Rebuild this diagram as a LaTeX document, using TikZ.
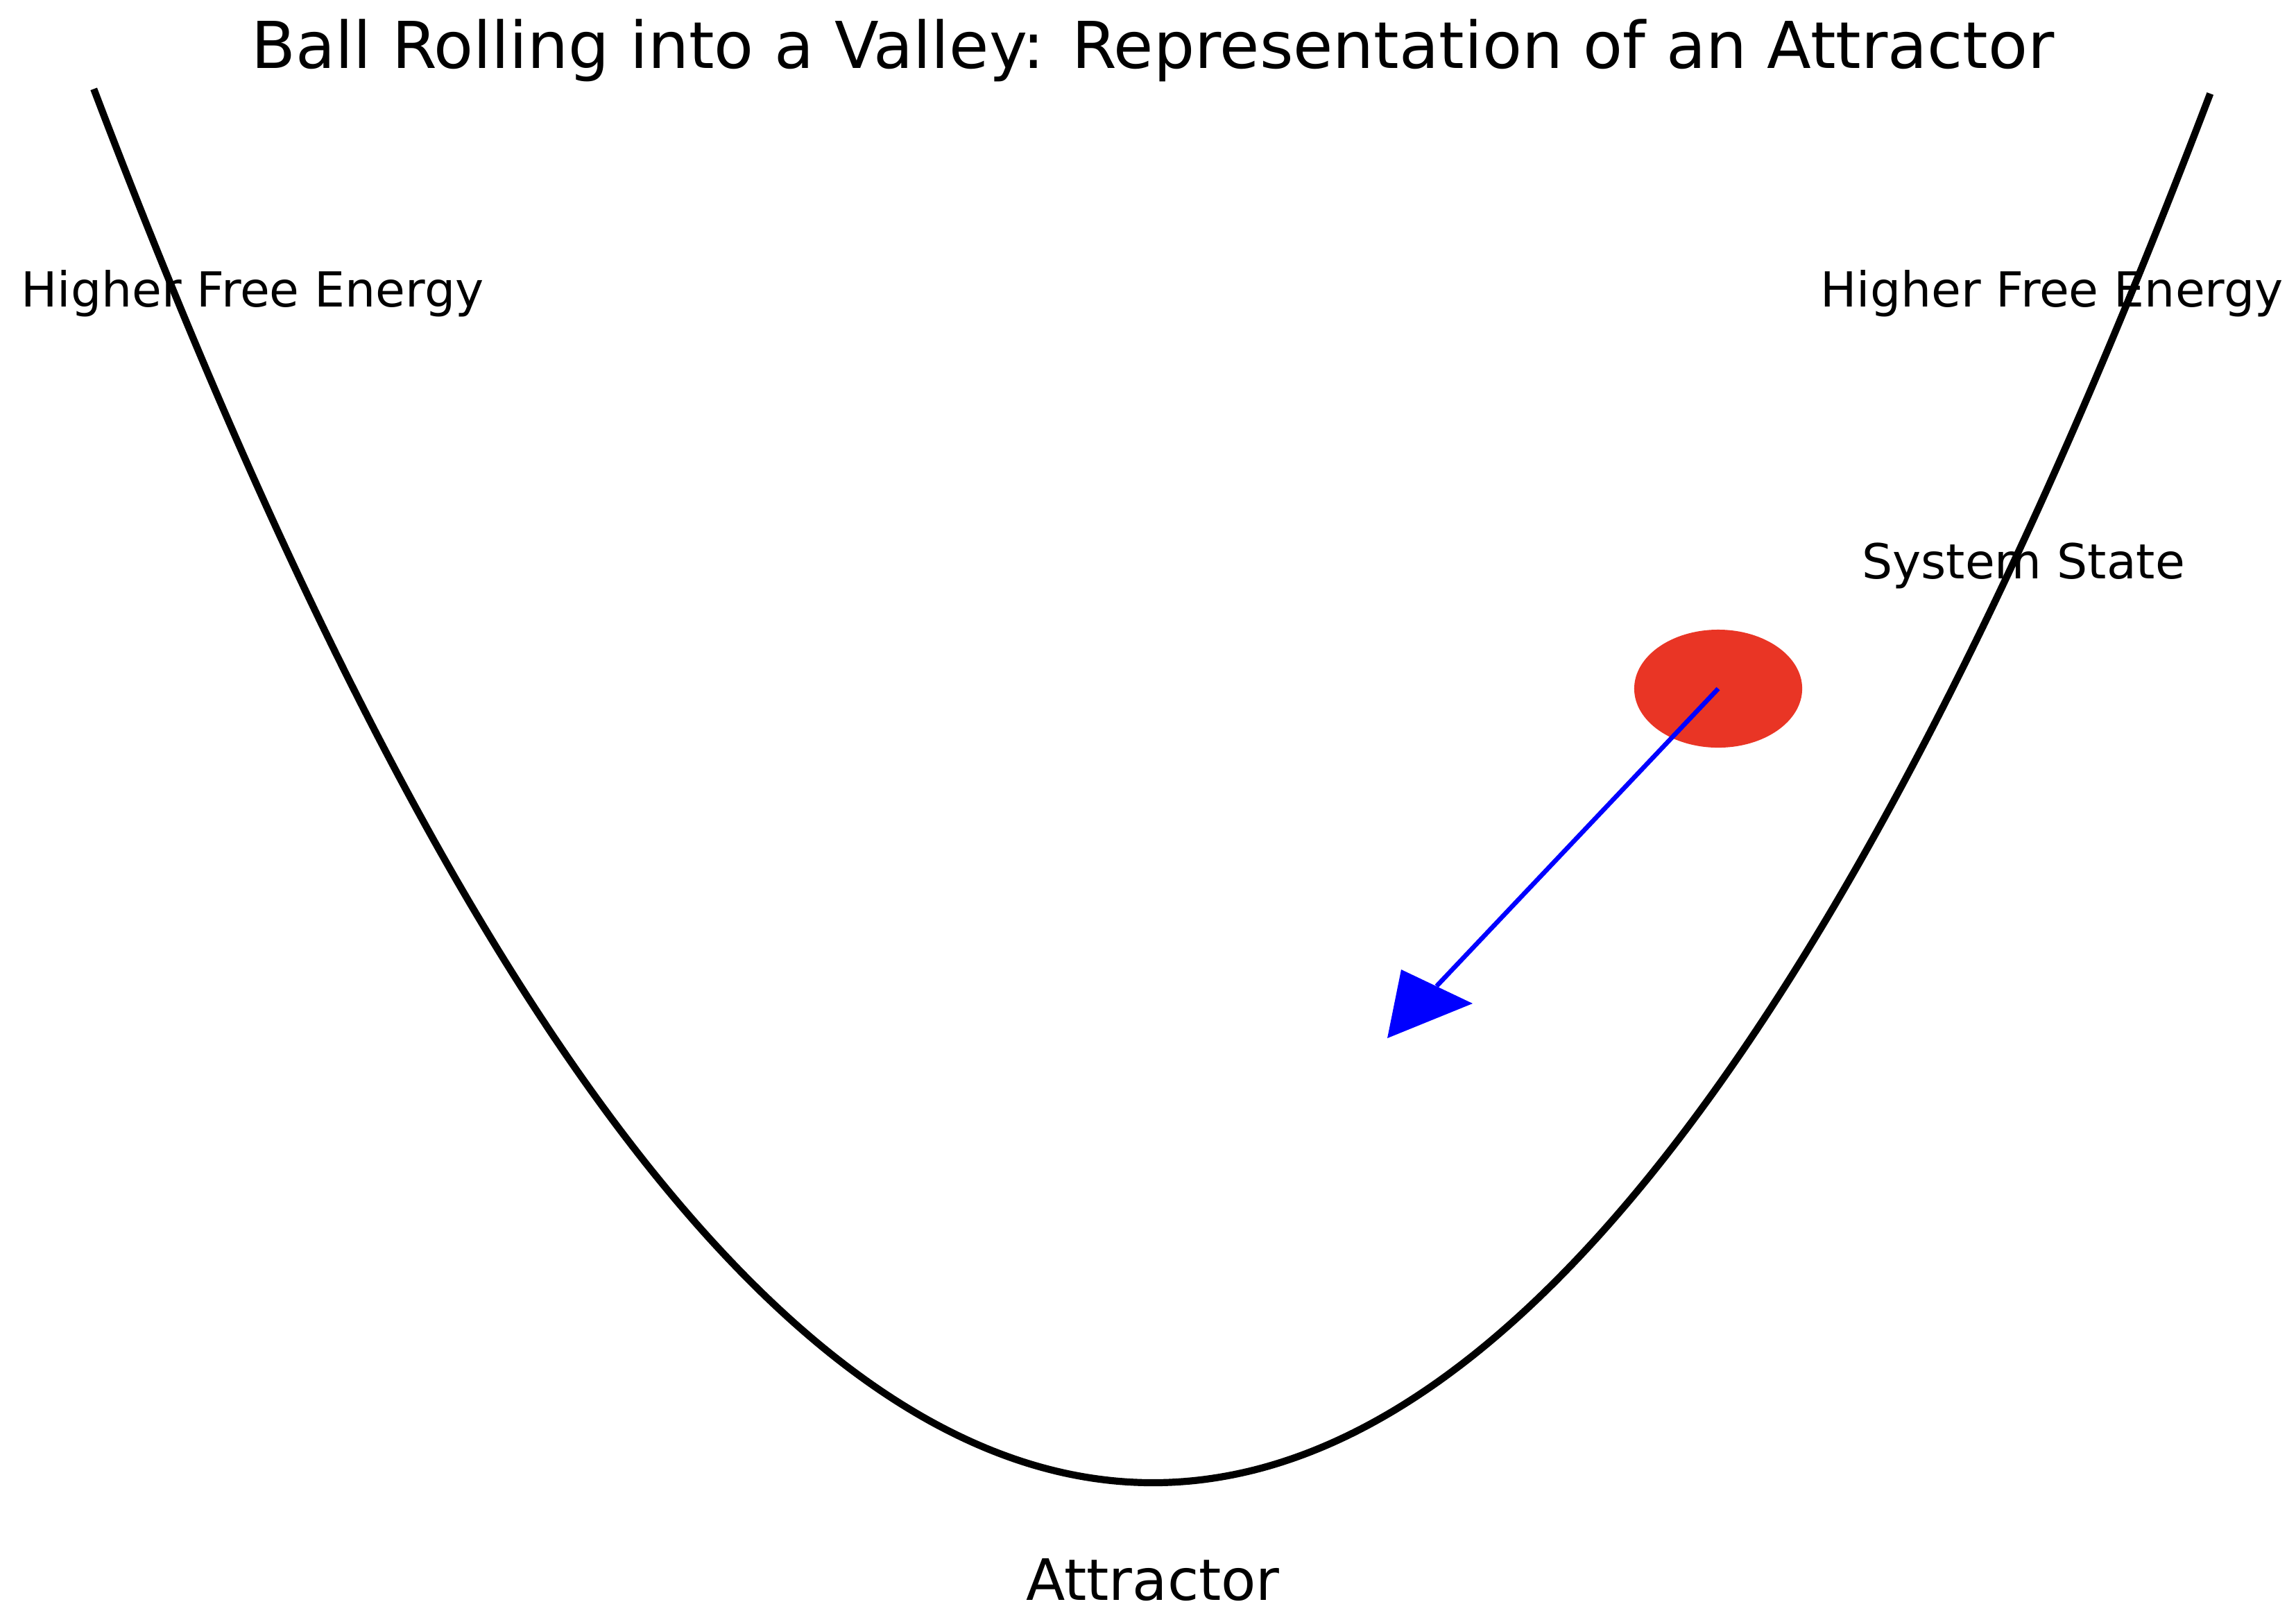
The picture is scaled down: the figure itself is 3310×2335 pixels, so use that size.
\documentclass[tikz,border=0pt]{standalone}
\usepackage{fontspec}
\setmainfont{DejaVu Sans}
\usetikzlibrary{shapes.geometric}
\definecolor{ballred}{RGB}{233,53,37}
\tikzset{
  lbl/.style={anchor=base, inner sep=0pt, font=\fontsize{19.8}{24}\selectfont, text=black},
  ttl/.style={anchor=base, inner sep=0pt, font=\fontsize{26.5}{32}\selectfont, text=black},
  attr/.style={anchor=base, inner sep=0pt, font=\fontsize{23.4}{28}\selectfont, text=black},
  valley/.style={line width=2.9pt, black, line cap=rect},
  ballstyle/.style={ellipse, fill=ballred, draw=none, minimum width=2.42cm, minimum height=1.70cm, inner sep=0pt},
  shaft/.style={blue, line width=1.9pt}
}
\begin{document}
\begin{tikzpicture}[x=0.01cm, y=-0.01cm]
\useasboundingbox (0,0) rectangle (3310,2335);
\fill[white] (0,0) rectangle (3310,2335);
% valley
\draw[valley] plot[domain=-1:1, samples=300] ({1662+1525*\x}, {2138-2005*(\x)^2});
% texts
\node[ttl] (title) at (1662,98) {Ball Rolling into a Valley: Representation of an Attractor};
\node[lbl] (hfeL) at (364,442) {Higher Free Energy};
\node[lbl] (hfeR) at (2958,442) {Higher Free Energy};
\node[lbl] (sys) at (2917,834) {System State};
\node[attr] (attr) at (1662,2307) {Attractor};
% ball
\node[ballstyle] (ball) at (2477,993) {};
% arrow
\coordinate (hb) at (2071,1422);
\coordinate (tip) at (2000,1497);
\coordinate (c1) at (2020,1398);
\coordinate (c2) at (2123,1447);
\draw[shaft] (ball.center) -- (hb);
\fill[blue] (tip) -- (c1) -- (c2) -- cycle;
\end{tikzpicture}
\end{document}
